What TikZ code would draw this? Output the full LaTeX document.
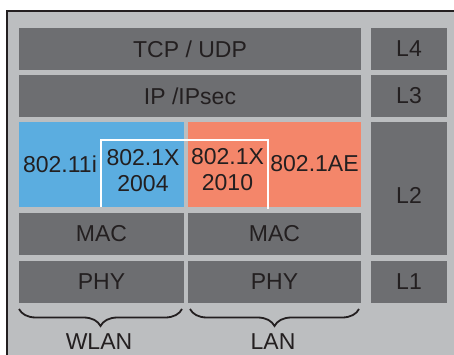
\documentclass[tikz,border=0pt]{standalone}
\usepackage{fontspec}
\setmainfont{Liberation Sans}
\usepackage{tikz}
\usetikzlibrary{decorations.pathreplacing}

\definecolor{panelgray}{HTML}{BCBEC0}
\definecolor{boxgray}{HTML}{6D6E71}
\definecolor{wlanblue}{HTML}{5BADE0}
\definecolor{lanorange}{HTML}{F4866A}
\definecolor{ink}{HTML}{231F20}
\newcommand{\lblfont}{\fontsize{23}{26}\selectfont}

\begin{document}
\begin{tikzpicture}[
    x=1pt, y=-1pt,
    box/.style={fill=boxgray, text=ink, inner sep=0pt, font=\lblfont, minimum height=42pt},
    wide/.style={box, minimum width=342pt},
    half/.style={box, minimum width=165pt},
    halfr/.style={box, minimum width=173pt},
    tag/.style={box, minimum width=76pt},
    lbl/.style={text=ink, inner sep=0pt, font=\lblfont, align=center},
    brc/.style={decorate, decoration={brace, mirror, amplitude=17pt}, line width=1.8pt, draw=ink}
]
\useasboundingbox (0,0) rectangle (454,355);

% Panel
\fill[panelgray] (7,11) rectangle (454,355);
\draw[ink, line width=2.6pt] (7,355) -- (7,11) -- (454,11);

% Upper layers
\node[wide] (tcp) at (190,49) {TCP / UDP};
\node[tag] (l4) at (409,49) {L4};
\node[wide] (ip) at (190,96) {IP /IPsec};
\node[tag] (l3) at (409,96) {L3};

% L2 security
\node[box, fill=wlanblue, minimum width=165pt, minimum height=85pt] (wsec) at (101.5,164.5) {};
\node[box, fill=lanorange, minimum width=173pt, minimum height=85pt] (lsec) at (274.5,164.5) {};
\node[tag, minimum height=133pt] (l2) at (409,188.5) {};
\node[lbl] (l2t) at (409,195) {L2};
\draw[white, line width=2pt] (101,207) -- (101,140) -- (268,140) -- (268,209);

\node[lbl] (w11i) at (60,164) {802.11i};
\node[lbl] (x2004) at (143,170.5) {802.1X\\2004};
\node[lbl] (x2010) at (227.5,170) {802.1X\\2010};
\node[lbl] (ae) at (314.5,164) {802.1AE};

% MAC / PHY
\node[half] (wmac) at (101.5,234) {MAC};
\node[halfr] (lmac) at (274.5,234) {MAC};
\node[half] (wphy) at (101.5,282) {PHY};
\node[halfr] (lphy) at (274.5,282) {PHY};
\node[tag] (l1) at (409,282) {L1};

% Braces
\draw[brc] (19,309) -- (182,309);
\draw[brc] (190,309) -- (359,309);
\node[lbl] (wlan) at (99,342) {WLAN};
\node[lbl] (lan) at (273,342) {LAN};

\end{tikzpicture}
\end{document}
